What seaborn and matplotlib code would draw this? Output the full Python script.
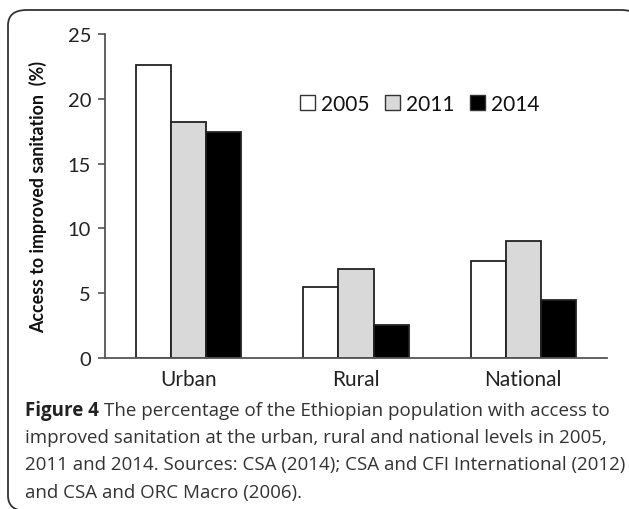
import matplotlib
matplotlib.use("Agg")
import matplotlib.pyplot as plt
import seaborn as sns
import pandas as pd
from matplotlib.patches import FancyBboxPatch, Patch

categories = ["Urban", "Rural", "National"]
years = ["2005", "2011", "2014"]
values_2005 = [22.6, 5.45, 7.45]
values_2011 = [18.2, 6.85, 9.0]
values_2014 = [17.4, 2.55, 4.45]
colors = ["#ffffff", "#d9d9d9", "#000000"]

rows = []
for yr, vals in zip(years, [values_2005, values_2011, values_2014]):
    for c, v in zip(categories, vals):
        rows.append({"Area": c, "Year": yr, "Value": v})
df = pd.DataFrame(rows)

sns.set_theme(style="white")
plt.rcParams["font.family"] = ["Lato", "DejaVu Sans"]

fig = plt.figure(figsize=(6.29, 5.10), dpi=100)
# rounded border box
box = FancyBboxPatch((8 / 629, -2 / 510), (640 - 8) / 629, (499 + 2) / 510,
                     boxstyle="round,pad=0,rounding_size=0.03",
                     transform=fig.transFigure, facecolor="white",
                     edgecolor="#333333", linewidth=1.3, zorder=-5)
fig.patches.append(box)

ax = fig.add_axes([105 / 629, 1 - 359 / 510, (607 - 105) / 629, (359 - 35) / 510])
ax.set_zorder(3)
ax.patch.set_alpha(0)
sns.barplot(data=df, x="Area", y="Value", hue="Year", order=categories,
            hue_order=years, palette=colors, width=0.63, edgecolor="#222222",
            linewidth=1.3, saturation=1, ax=ax, legend=False, errorbar=None)

ax.set_ylim(0, 25)
ax.set_xlim(-0.5, 2.5)
ax.set_yticks([0, 5, 10, 15, 20, 25])
ax.tick_params(axis="y", direction="out", length=5, width=1.2, color="#555555",
               labelsize=14.5, labelcolor="#222222", pad=5, left=True)
ax.tick_params(axis="x", length=0, labelsize=15, labelcolor="#222222", pad=8)
ax.set_xlabel("")
ax.set_ylabel("Access to improved sanitation  (%)", fontsize=12.8,
              fontweight="bold", color="#111111")
ax.yaxis.set_label_coords(-0.115, 0.5)
for s in ["top", "right"]:
    ax.spines[s].set_visible(False)
for s in ["left", "bottom"]:
    ax.spines[s].set_color("#555555")
    ax.spines[s].set_linewidth(1.3)

handles = [Patch(facecolor=c, edgecolor="#333333", linewidth=1.0, label=y)
           for c, y in zip(colors, years)]
ax.legend(handles=handles, ncol=3, frameon=False, loc="center",
          bbox_to_anchor=(0.627, 0.785), fontsize=15, handlelength=0.7,
          handleheight=0.7, handletextpad=0.3, columnspacing=0.75,
          labelcolor="#111111")

cap_font = ["Open Sans", "DejaVu Sans"]
cap_size = 13.5
cap_x = 25 / 629
t0 = fig.text(cap_x, 1 - 411 / 510, "Figure 4", fontsize=cap_size, fontweight="bold",
              color="#222222", va="center", ha="left", family=cap_font)
fig.canvas.draw()
bb = t0.get_window_extent()
x_next = (bb.x1 + 5) / fig.bbox.width
fig.text(x_next, 1 - 411 / 510,
         "The percentage of the Ethiopian population with access to",
         fontsize=cap_size, color="#333333", va="center", ha="left",
         family=cap_font)
lines = ["improved sanitation at the urban, rural and national levels in 2005,",
         "2011 and 2014. Sources: CSA (2014); CSA and CFI International (2012)",
         "and CSA and ORC Macro (2006)."]
for i, ln in enumerate(lines):
    fig.text(cap_x, 1 - (438 + 27.5 * i) / 510, ln, fontsize=cap_size, color="#333333",
             va="center", ha="left", family=cap_font)

fig.savefig("out.png", dpi=100)
